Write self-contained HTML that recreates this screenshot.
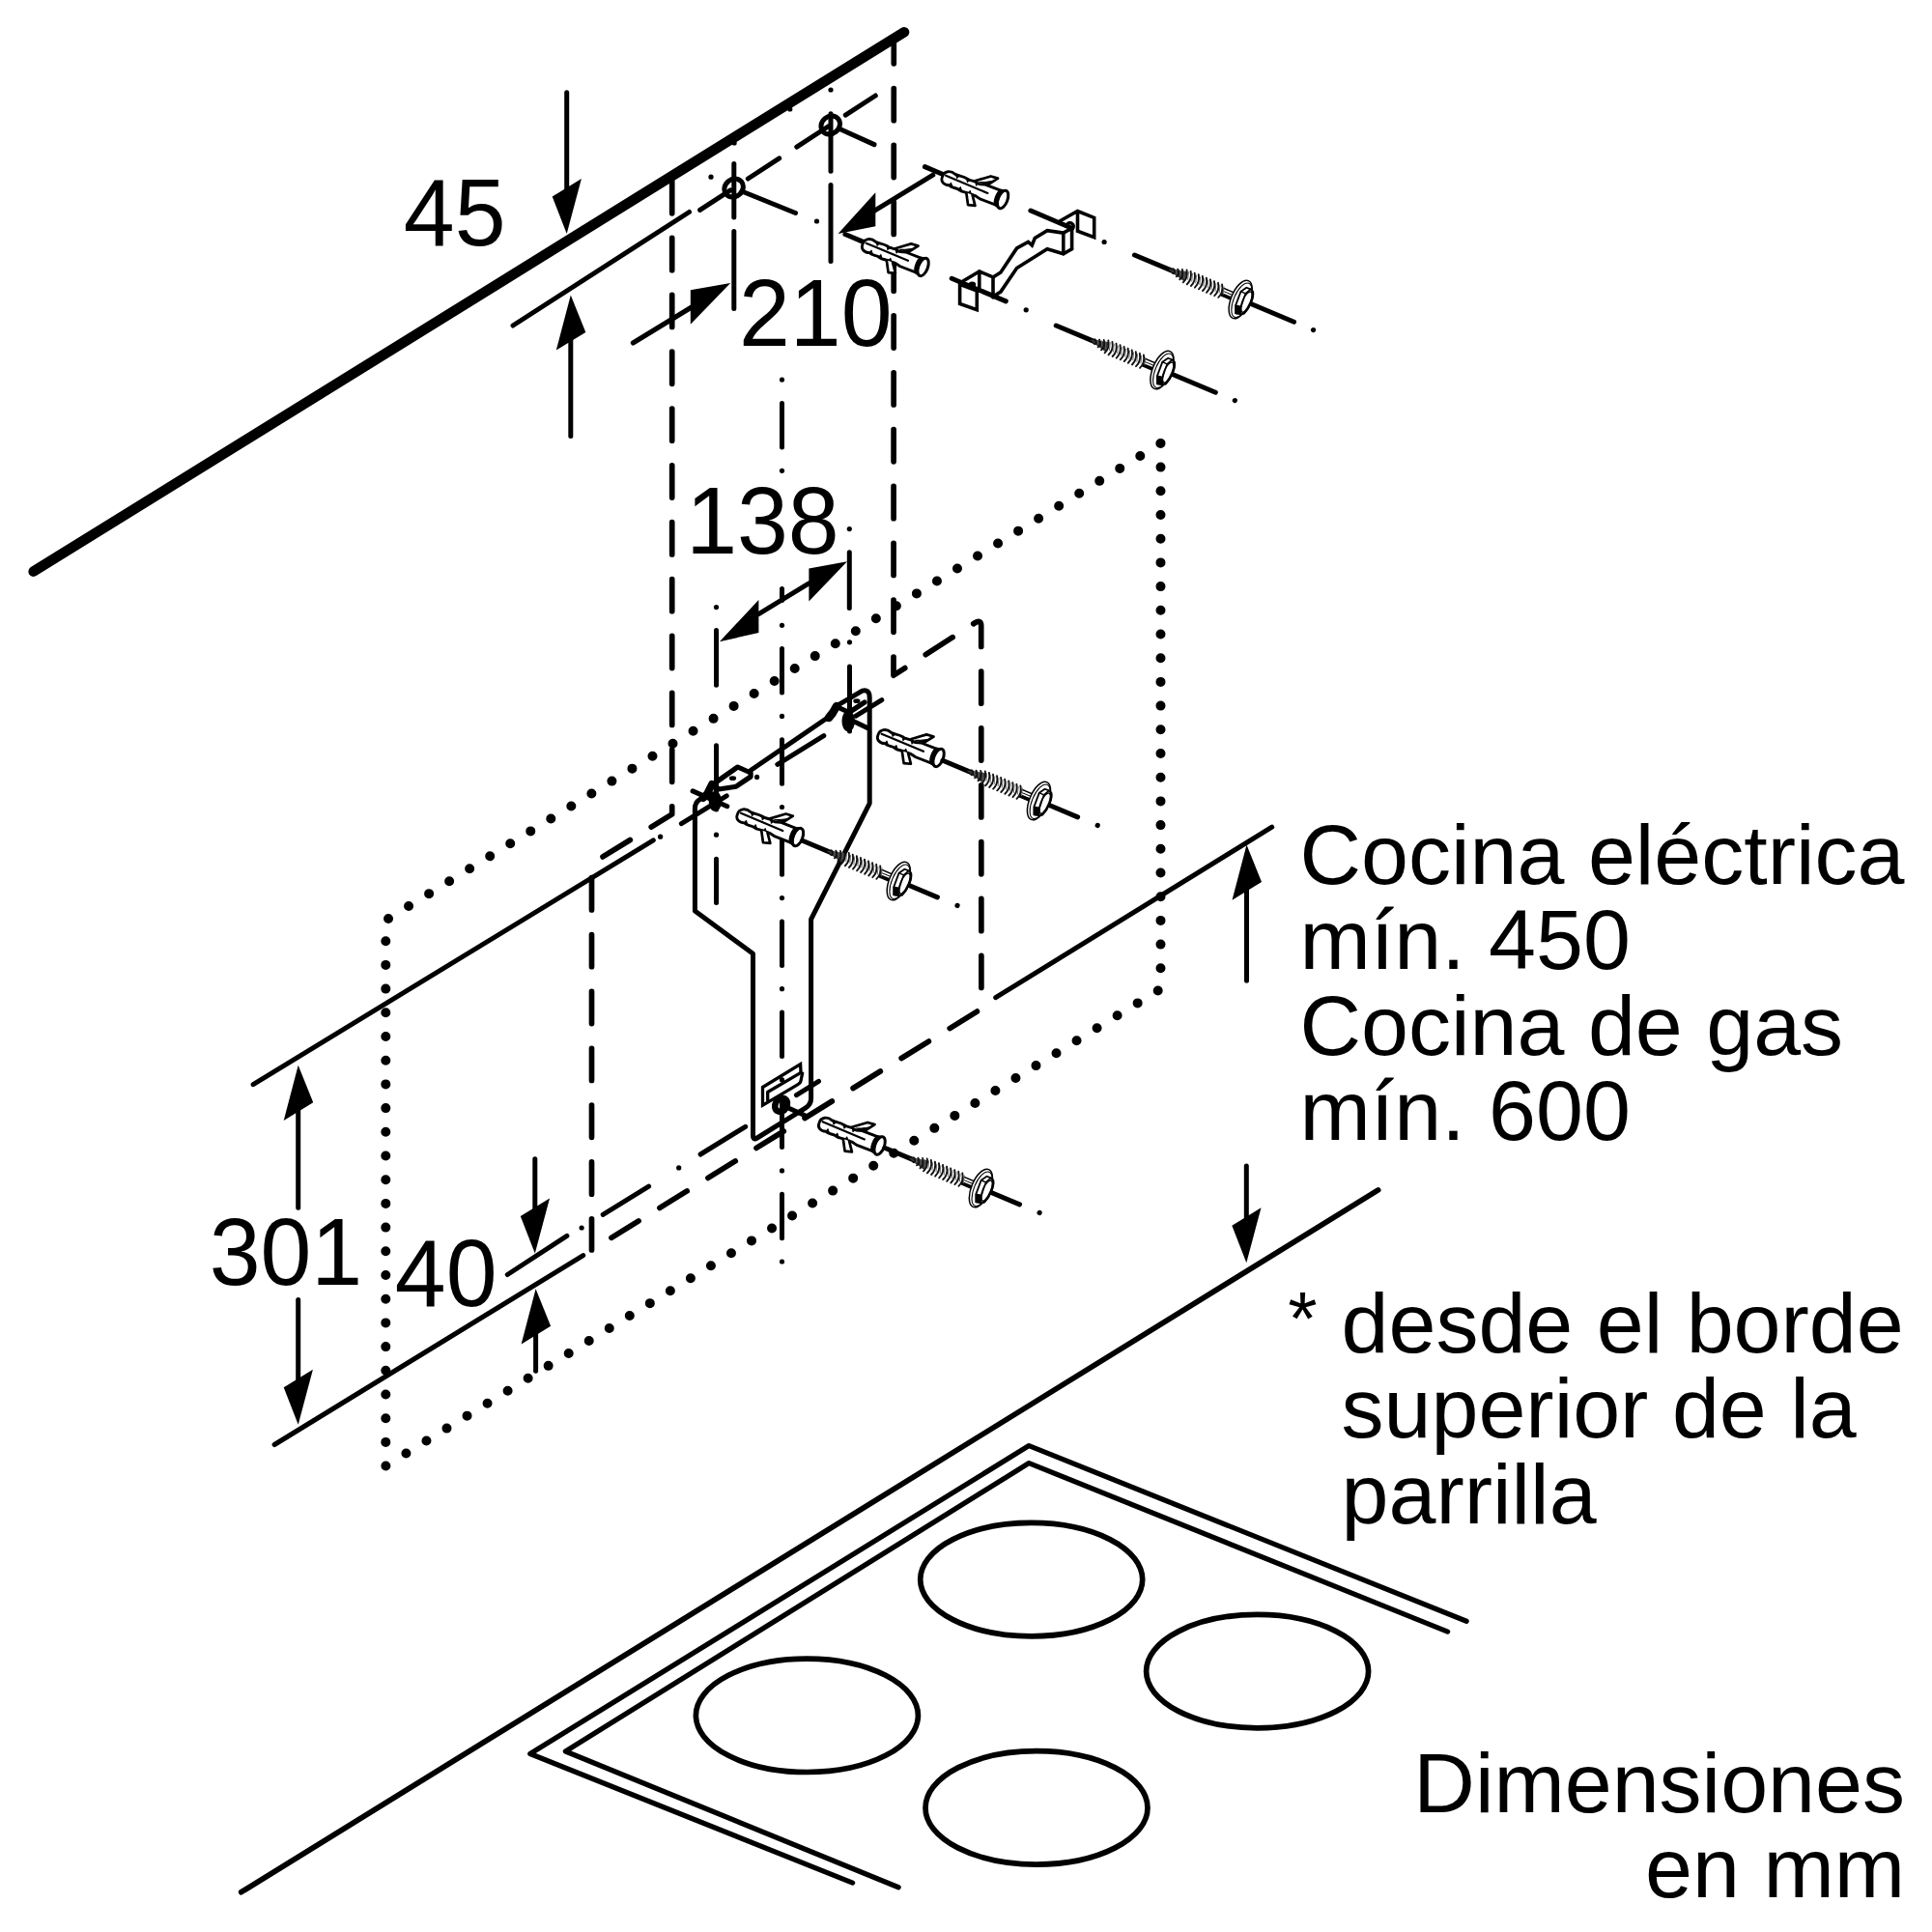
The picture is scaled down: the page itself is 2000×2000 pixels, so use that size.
<!DOCTYPE html>
<html lang="es"><head><meta charset="utf-8"><title>Dimensiones en mm</title>
<style>
html,body{margin:0;padding:0;background:#fff}
svg{display:block}
text{font-family:"Liberation Sans",sans-serif;fill:#000;stroke:none}
</style></head><body>
<svg width="2000" height="2000" viewBox="0 0 2000 2000" stroke="#000" fill="none" stroke-linecap="round" stroke-linejoin="round">
<rect x="0" y="0" width="2000" height="2000" fill="#fff" stroke="none"/>
<path d="M1201.5,458.9 L1201.5,1023.7 L399.3,1517.5 L399.3,952.7 Z" stroke-width="10" stroke-dasharray="0 24.7" stroke-linejoin="miter"/>
<line x1="34.7" y1="591.6" x2="936.0" y2="33.3" stroke-width="10.6" />
<path d="M695.7,185 L695.7,842.9 L612.5,894" stroke-width="5.7" stroke-dasharray="33.2 25.65" stroke-dashoffset="-2.6" stroke-linejoin="round"/>
<path d="M612.5,894 L612.5,1294" stroke-width="5.7" stroke-dasharray="33.2 25.65" stroke-dashoffset="-14.7" stroke-linejoin="round"/>
<path d="M612.5,1294 L1015.9,1044.3" stroke-width="5.7" stroke-dasharray="33.2 25.65" stroke-dashoffset="-24.0" stroke-linejoin="round"/>
<path d="M1015.9,1044.3 L1015.7,648 Q1015.7,640.6 1008.9,645 L925,699.2 L925.3,44" stroke-width="5.7" stroke-dasharray="33.2 25.65" stroke-dashoffset="-21.8" stroke-linejoin="round"/>
<line x1="586.7" y1="95.8" x2="586.7" y2="202.0" stroke-width="5.0" />
<polygon points="586.7,242.0 571.7,203.5 601.9,185.0" fill="#000" stroke="none"/>
<line x1="590.8" y1="345.4" x2="590.8" y2="451.6" stroke-width="5.0" />
<polygon points="590.8,305.4 575.8,362.6 606.3,343.9" fill="#000" stroke="none"/>
<line x1="531.0" y1="337.0" x2="713.5" y2="219.5" stroke-width="5.0" />
<text transform="translate(417.8 254.0) scale(1 1.04)" font-size="95" text-anchor="start">45</text>
<line x1="724.6" y1="217.4" x2="756.2" y2="196.8" stroke-width="5.0" />
<line x1="774.3" y1="185.0" x2="806.7" y2="163.9" stroke-width="5.0" />
<line x1="824.8" y1="152.1" x2="857.2" y2="131.0" stroke-width="5.0" />
<line x1="875.3" y1="119.2" x2="906.3" y2="99.0" stroke-width="5.0" />
<ellipse cx="759.6" cy="194.6" rx="10.3" ry="8.9" stroke-width="5.0" transform="rotate(-40 759.6 194.6)"/>
<ellipse cx="859.7" cy="129.4" rx="10.3" ry="8.9" stroke-width="5.0" transform="rotate(-40 859.7 129.4)"/>
<line x1="767.9" y1="198.0" x2="823.5" y2="220.5" stroke-width="5.0" />
<line x1="868.8" y1="133.3" x2="905.0" y2="149.6" stroke-width="5.0" />
<line x1="759.8" y1="169.5" x2="759.8" y2="225.0" stroke-width="5.0" />
<line x1="759.8" y1="239.4" x2="759.8" y2="319.6" stroke-width="5.0" />
<circle cx="760.1" cy="148.0" r="2.6" fill="#000" stroke="none"/>
<line x1="860.0" y1="117.7" x2="860.0" y2="177.3" stroke-width="5.0" />
<line x1="860.0" y1="191.5" x2="860.0" y2="270.5" stroke-width="5.0" />
<circle cx="860.0" cy="93.0" r="2.6" fill="#000" stroke="none"/>
<circle cx="817.8" cy="113.0" r="2.6" fill="#000" stroke="none"/>
<circle cx="736.0" cy="183.2" r="2.6" fill="#000" stroke="none"/>
<circle cx="845.5" cy="229.0" r="2.6" fill="#000" stroke="none"/>
<line x1="655.3" y1="355.0" x2="720.0" y2="315.5" stroke-width="5.0" />
<polygon points="756.2,293.0 714.8,300.2 714.8,335.7" fill="#000" stroke="none"/>
<line x1="965.8" y1="181.2" x2="900.0" y2="221.3" stroke-width="5.0" />
<polygon points="867.5,242.0 906.3,199.3 906.3,234.2" fill="#000" stroke="none"/>
<text transform="translate(765.0 358.0) scale(1 1.04)" font-size="95" text-anchor="start">210</text>
<circle cx="809.5" cy="393.1" r="2.6" fill="#000" stroke="none"/>
<line x1="809.5" y1="417.6" x2="809.5" y2="463.1" stroke-width="5.0" />
<circle cx="809.5" cy="487.3" r="2.6" fill="#000" stroke="none"/>
<line x1="809.5" y1="609.4" x2="809.5" y2="621.5" stroke-width="5.0" />
<circle cx="809.5" cy="647.3" r="2.6" fill="#000" stroke="none"/>
<line x1="809.5" y1="671.6" x2="809.5" y2="717.1" stroke-width="5.0" />
<circle cx="809.5" cy="741.4" r="2.6" fill="#000" stroke="none"/>
<line x1="809.5" y1="765.7" x2="809.5" y2="811.2" stroke-width="5.0" />
<circle cx="809.5" cy="835.5" r="2.6" fill="#000" stroke="none"/>
<line x1="809.5" y1="859.8" x2="809.5" y2="905.3" stroke-width="5.0" />
<circle cx="809.5" cy="929.6" r="2.6" fill="#000" stroke="none"/>
<line x1="809.5" y1="953.9" x2="809.5" y2="999.4" stroke-width="5.0" />
<circle cx="809.5" cy="1023.7" r="2.6" fill="#000" stroke="none"/>
<line x1="809.5" y1="1048.0" x2="809.5" y2="1093.5" stroke-width="5.0" />
<circle cx="809.5" cy="1117.8" r="2.6" fill="#000" stroke="none"/>
<line x1="809.5" y1="1142.1" x2="809.5" y2="1187.6" stroke-width="5.0" />
<circle cx="809.5" cy="1211.9" r="2.6" fill="#000" stroke="none"/>
<line x1="809.5" y1="1236.2" x2="809.5" y2="1281.7" stroke-width="5.0" />
<circle cx="809.5" cy="1306.0" r="2.6" fill="#000" stroke="none"/>
<text transform="translate(710.2 572.5) scale(1 1.04)" font-size="95" text-anchor="start">138</text>
<polygon points="877.0,581.3 837.4,588.6 837.4,622.4" fill="#000" stroke="none"/>
<polygon points="744.9,664.3 785.4,620.9 785.4,655.0" fill="#000" stroke="none"/>
<line x1="837.4" y1="603.8" x2="785.4" y2="635.6" stroke-width="5.0" />
<circle cx="879.3" cy="547.6" r="2.6" fill="#000" stroke="none"/>
<line x1="879.3" y1="571.8" x2="879.3" y2="629.5" stroke-width="5.0" />
<circle cx="879.5" cy="664.8" r="2.6" fill="#000" stroke="none"/>
<line x1="879.5" y1="690.0" x2="879.5" y2="757.0" stroke-width="5.0" />
<circle cx="741.5" cy="628.6" r="2.6" fill="#000" stroke="none"/>
<line x1="741.5" y1="652.6" x2="741.5" y2="709.2" stroke-width="5.0" />
<line x1="741.5" y1="771.8" x2="741.5" y2="838.0" stroke-width="5.0" />
<circle cx="741.5" cy="864.2" r="2.6" fill="#000" stroke="none"/>
<line x1="741.5" y1="889.3" x2="741.5" y2="934.6" stroke-width="5.0" />
<line x1="262.1" y1="1122.7" x2="676.3" y2="869.8" stroke-width="5.0" />
<circle cx="683.6" cy="866.2" r="2.6" fill="#000" stroke="none"/>
<line x1="308.7" y1="1142.8" x2="308.7" y2="1250.3" stroke-width="5.0" />
<polygon points="308.7,1102.8 293.7,1160.0 324.2,1141.3" fill="#000" stroke="none"/>
<line x1="308.7" y1="1345.4" x2="308.7" y2="1434.8" stroke-width="5.0" />
<polygon points="308.7,1474.8 293.7,1436.3 323.9,1417.8" fill="#000" stroke="none"/>
<text transform="translate(216.7 1329.5) scale(1 1.04)" font-size="95" text-anchor="start">301</text>
<line x1="284.1" y1="1495.5" x2="603.7" y2="1299.6" stroke-width="5.0" />
<text transform="translate(408.8 1351.5) scale(1 1.04)" font-size="95" text-anchor="start">40</text>
<line x1="553.8" y1="1199.8" x2="553.8" y2="1257.5" stroke-width="5.0" />
<polygon points="553.8,1297.5 538.8,1259.0 569.0,1240.5" fill="#000" stroke="none"/>
<line x1="554.6" y1="1374.3" x2="554.6" y2="1419.2" stroke-width="5.0" />
<polygon points="554.6,1334.3 539.6,1391.5 570.1,1372.8" fill="#000" stroke="none"/>
<line x1="525.3" y1="1319.5" x2="586.9" y2="1279.4" stroke-width="5.0" />
<line x1="1030.7" y1="1032.7" x2="1316.7" y2="856.2" stroke-width="5.0" />
<line x1="1290.5" y1="914.5" x2="1290.5" y2="1015.3" stroke-width="5.0" />
<polygon points="1290.5,874.5 1275.5,931.7 1306.0,913.0" fill="#000" stroke="none"/>
<line x1="1290.3" y1="1207.0" x2="1290.3" y2="1267.2" stroke-width="5.0" />
<polygon points="1290.3,1307.2 1275.3,1268.7 1305.5,1250.2" fill="#000" stroke="none"/>
<line x1="249.7" y1="1958.7" x2="1426.7" y2="1231.9" stroke-width="5.7" />
<text x="1345.5" y="915.1" font-size="88" text-anchor="start">Cocina eléctrica</text>
<text x="1345.5" y="1003.3" font-size="88" text-anchor="start">mín. 450</text>
<text x="1345.5" y="1091.5" font-size="88" text-anchor="start">Cocina de gas</text>
<text x="1345.5" y="1179.7" font-size="88" text-anchor="start">mín. 600</text>
<text x="1333.3" y="1392.0" font-size="78" text-anchor="start">*</text>
<text x="1388.5" y="1400.3" font-size="88" text-anchor="start">desde el borde</text>
<text x="1388.5" y="1488.4" font-size="88" text-anchor="start">superior de la</text>
<text x="1388.5" y="1576.5" font-size="88" text-anchor="start">parrilla</text>
<text x="1972.0" y="1875.7" font-size="88" text-anchor="end">Dimensiones</text>
<text x="1972.0" y="1963.5" font-size="88" text-anchor="end">en mm</text>
<polyline points="882.6,1949.1 548.8,1815.5 1065.2,1496.6 1518.1,1678.3" fill="none" stroke-width="5.3" stroke-linejoin="round"/>
<polyline points="930.1,1953.7 585.4,1813.0 1065.2,1514.6 1498.6,1689.1" fill="none" stroke-width="5.3" stroke-linejoin="round"/>
<ellipse cx="835.4" cy="1775.8" rx="115" ry="58.7" stroke-width="5.7"/>
<ellipse cx="1067.7" cy="1635.1" rx="115" ry="58.7" stroke-width="5.7"/>
<ellipse cx="1301.6" cy="1730.1" rx="115" ry="58.7" stroke-width="5.7"/>
<ellipse cx="1073" cy="1871.4" rx="115" ry="58.7" stroke-width="5.7"/>
<path d="M735,821 L724,827.8 Q719.4,830.8 719.4,837 L719.4,943 L779.5,987.3 L779.5,1175.5 Q779.5,1180.6 783.8,1178 L834,1146.8 Q839.6,1143.3 839.6,1137 L839.6,951.6 L900.2,831.6 L900.2,722 Q900.2,713.2 892.6,715.2 L868,729.6 Q864,732 861,740 L777,797.5" stroke-width="5.0"/>
<path d="M738,812 L763.7,794 L777.1,800 L777.1,804 L762.1,814.2 L744,817 Z" stroke-width="5.2"/>
<ellipse cx="758.5" cy="805.7" rx="3.6" ry="2.4" fill="#000" stroke="none"/>
<path d="M737,812 L732,822 L728,826" stroke-width="8"/>
<ellipse cx="740.3" cy="829.5" rx="3.6" ry="7.4" stroke-width="6"/>
<line x1="717.1" y1="818.9" x2="752.8" y2="834.7" stroke-width="5" />
<path d="M866,731.5 L879,737.5 L895,727" stroke-width="5.2"/>
<ellipse cx="886.9" cy="725.7" rx="3.6" ry="2.4" fill="#000" stroke="none"/>
<path d="M866,731 L862,738 L858,743" stroke-width="8.5"/>
<ellipse cx="878.2" cy="746.5" rx="3.6" ry="7.6" stroke-width="6.2"/>
<line x1="884.3" y1="746.9" x2="898.3" y2="753.7" stroke-width="5" />
<line x1="705.4" y1="852.7" x2="752.2" y2="823.8" stroke-width="5.0" />
<line x1="804.8" y1="791.3" x2="852.8" y2="761.6" stroke-width="5.0" />
<line x1="886.0" y1="741.1" x2="912.8" y2="724.6" stroke-width="5.0" />
<circle cx="783.6" cy="804.4" r="2.6" fill="#000" stroke="none"/>
<path d="M789.5,1125.5 L828.6,1101.7 L829,1110 L830.6,1111.2 L829.2,1118 Q829,1121 826,1122.6 L799,1138.6 L789.5,1144.2 Z" stroke-width="3.3" stroke-linejoin="miter"/>
<path d="M827.8,1111.1 L794.7,1130.5 L794.7,1139" stroke-width="3.3"/>
<circle cx="809.3" cy="1117.8" r="2.4" fill="#000" stroke="none"/>
<ellipse cx="808.6" cy="1143.8" rx="6.0" ry="7.4" stroke-width="6.6" transform="rotate(30 808.6 1143.8)"/>
<line x1="814.5" y1="1146.3" x2="832.8" y2="1154.5" stroke-width="5" />
<line x1="824.5" y1="1133.7" x2="847.5" y2="1119.4" stroke-width="5.0" />
<line x1="725.1" y1="1195.0" x2="771.7" y2="1166.3" stroke-width="5.0" />
<line x1="624.2" y1="1257.4" x2="671.6" y2="1228.1" stroke-width="5.0" />
<circle cx="702.7" cy="1208.9" r="2.6" fill="#000" stroke="none"/>
<circle cx="602.1" cy="1271.0" r="2.6" fill="#000" stroke="none"/>
<g stroke-width="3.6" stroke-linejoin="miter">
<path d="M1097.3,228.8 L1115.5,218.5 L1132.7,225.4 L1132.7,245.6 L1115.5,239.2 L1115.5,218.5"/>
<path d="M1109.6,257.8 L1109.6,236.2 L1100.8,241.1 L1100.8,262.8"/>
<path d="M1028.0,286.9 L1035.9,281.9 L1052.6,256.9 L1064.4,250.5 L1068.3,253.9 L1071.3,246.5 L1084.1,238.7 L1100.8,241.1"/>
<path d="M1028.0,307.0 L1035.9,302.1 L1052.6,277.5 L1084.1,257.8 L1100.8,262.8 L1109.6,257.8"/>
<path d="M996.5,291.3 L1013.8,281.0 L1028.0,286.9 L1028.0,308.0"/>
<path d="M1013.8,281.0 L1013.8,301.1"/>
<path d="M993.6,294.2 L1011.3,301.1 L1011.3,320.8 L993.6,314.4 Z"/>
</g>
<path d="M1104.7,232.3 a3.6,3.6 0 1 1 6,4" stroke-width="3.4"/>
<ellipse cx="1006.4" cy="294.7" rx="3.8" ry="3.2" fill="#000" stroke="none"/>
<line x1="1066.9" y1="218.0" x2="1109.6" y2="236.2" stroke-width="5" />
<line x1="985.2" y1="288.3" x2="1041.3" y2="311.9" stroke-width="5" />
<circle cx="1143.1" cy="250.5" r="2.6" fill="#000" stroke="none"/>
<circle cx="1062.2" cy="320.8" r="2.6" fill="#000" stroke="none"/>
<g transform="translate(1038.1 206.5) rotate(22.75)">
<line x1="-87.5" y1="0" x2="-64" y2="0" stroke-width="5"/>
</g>
<g transform="translate(1038.1 206.5) rotate(21)">
<g transform="scale(0.972 1)">
<path d="M-2,-7.9 L-23,-7.9 L-29,-6.2 C-35,-8.2 -39,-5.6 -43,-6.8 C-49,-8.2 -53,-5.8 -57,-6.8 C-63,-9 -69.3,-5.8 -68.8,0 C-69.3,5.8 -64,8 -59,6.2 C-55,8.2 -51,5.6 -47,7 C-43,8.4 -39,5.8 -35,7 L-29,6.6 L-23,7.9 L-2,7.9 Z" fill="#fff" stroke-width="2.9"/>
<path d="M-56,-6.6 l3.6,0.4 l-1.4,2.8 Z M-44,-6.6 l3.6,0.4 l-1.4,2.8 Z M-34,-6.8 l3.8,0.6 l-1.6,2.8 Z M-59,6.2 l1.2,-3.2 l2.4,2.8 Z M-48,6.8 l1.2,-3.2 l2.4,2.8 Z M-37,6.8 l1.2,-3.2 l2.4,2.8 Z" fill="#000" stroke-width="0.9"/>
</g>
<path d="M-33.8,-7.6 L-20.2,-18 L-12.6,-18.6 L-19.7,-9" fill="#fff" stroke-width="2.7"/>
<path d="M-29,-8.2 L-19.7,-9 L-15.5,-14.6 L-24,-10.2 Z" fill="#000" stroke-width="1"/>
<path d="M-37.8,7 L-31.6,18.2 L-24.5,16.2 L-31.3,6.6" fill="#fff" stroke-width="2.7"/>
<ellipse cx="0" cy="0" rx="4.8" ry="9.7" fill="#fff" stroke-width="3"/>
<path d="M-0.6,-9.6 A4.8,9.7 0 0 0 -0.6,9.6 L-5.4,8.3 A4.8,9.7 0 0 1 -5.4,-8.3 Z" fill="#000" stroke-width="2"/>
</g>
<g transform="translate(1038.1 206.5) rotate(22.75)">
<line x1="-64" y1="0" x2="-17" y2="0" stroke-width="2.2"/>
</g>
<g transform="translate(955.6 276.4) rotate(22.75)">
<line x1="-87.5" y1="0" x2="-64" y2="0" stroke-width="5"/>
</g>
<g transform="translate(955.6 276.4) rotate(21)">
<g transform="scale(0.972 1)">
<path d="M-2,-7.9 L-23,-7.9 L-29,-6.2 C-35,-8.2 -39,-5.6 -43,-6.8 C-49,-8.2 -53,-5.8 -57,-6.8 C-63,-9 -69.3,-5.8 -68.8,0 C-69.3,5.8 -64,8 -59,6.2 C-55,8.2 -51,5.6 -47,7 C-43,8.4 -39,5.8 -35,7 L-29,6.6 L-23,7.9 L-2,7.9 Z" fill="#fff" stroke-width="2.9"/>
<path d="M-56,-6.6 l3.6,0.4 l-1.4,2.8 Z M-44,-6.6 l3.6,0.4 l-1.4,2.8 Z M-34,-6.8 l3.8,0.6 l-1.6,2.8 Z M-59,6.2 l1.2,-3.2 l2.4,2.8 Z M-48,6.8 l1.2,-3.2 l2.4,2.8 Z M-37,6.8 l1.2,-3.2 l2.4,2.8 Z" fill="#000" stroke-width="0.9"/>
</g>
<path d="M-33.8,-7.6 L-20.2,-18 L-12.6,-18.6 L-19.7,-9" fill="#fff" stroke-width="2.7"/>
<path d="M-29,-8.2 L-19.7,-9 L-15.5,-14.6 L-24,-10.2 Z" fill="#000" stroke-width="1"/>
<path d="M-37.8,7 L-31.6,18.2 L-24.5,16.2 L-31.3,6.6" fill="#fff" stroke-width="2.7"/>
<ellipse cx="0" cy="0" rx="4.8" ry="9.7" fill="#fff" stroke-width="3"/>
<path d="M-0.6,-9.6 A4.8,9.7 0 0 0 -0.6,9.6 L-5.4,8.3 A4.8,9.7 0 0 1 -5.4,-8.3 Z" fill="#000" stroke-width="2"/>
</g>
<g transform="translate(955.6 276.4) rotate(22.75)">
<line x1="-64" y1="0" x2="-17" y2="0" stroke-width="2.2"/>
</g>
<g transform="translate(971.6 784.4) rotate(22.75)">
</g>
<g transform="translate(971.6 784.4) rotate(21)">
<g transform="scale(0.972 1)">
<path d="M-2,-7.9 L-23,-7.9 L-29,-6.2 C-35,-8.2 -39,-5.6 -43,-6.8 C-49,-8.2 -53,-5.8 -57,-6.8 C-63,-9 -69.3,-5.8 -68.8,0 C-69.3,5.8 -64,8 -59,6.2 C-55,8.2 -51,5.6 -47,7 C-43,8.4 -39,5.8 -35,7 L-29,6.6 L-23,7.9 L-2,7.9 Z" fill="#fff" stroke-width="2.9"/>
<path d="M-56,-6.6 l3.6,0.4 l-1.4,2.8 Z M-44,-6.6 l3.6,0.4 l-1.4,2.8 Z M-34,-6.8 l3.8,0.6 l-1.6,2.8 Z M-59,6.2 l1.2,-3.2 l2.4,2.8 Z M-48,6.8 l1.2,-3.2 l2.4,2.8 Z M-37,6.8 l1.2,-3.2 l2.4,2.8 Z" fill="#000" stroke-width="0.9"/>
</g>
<path d="M-33.8,-7.6 L-20.2,-18 L-12.6,-18.6 L-19.7,-9" fill="#fff" stroke-width="2.7"/>
<path d="M-29,-8.2 L-19.7,-9 L-15.5,-14.6 L-24,-10.2 Z" fill="#000" stroke-width="1"/>
<path d="M-37.8,7 L-31.6,18.2 L-24.5,16.2 L-31.3,6.6" fill="#fff" stroke-width="2.7"/>
<ellipse cx="0" cy="0" rx="4.8" ry="9.7" fill="#fff" stroke-width="3"/>
<path d="M-0.6,-9.6 A4.8,9.7 0 0 0 -0.6,9.6 L-5.4,8.3 A4.8,9.7 0 0 1 -5.4,-8.3 Z" fill="#000" stroke-width="2"/>
</g>
<g transform="translate(971.6 784.4) rotate(22.75)">
<line x1="-64" y1="0" x2="-17" y2="0" stroke-width="2.2"/>
</g>
<g transform="translate(826.0 866.6) rotate(22.75)">
</g>
<g transform="translate(826.0 866.6) rotate(21)">
<g transform="scale(0.972 1)">
<path d="M-2,-7.9 L-23,-7.9 L-29,-6.2 C-35,-8.2 -39,-5.6 -43,-6.8 C-49,-8.2 -53,-5.8 -57,-6.8 C-63,-9 -69.3,-5.8 -68.8,0 C-69.3,5.8 -64,8 -59,6.2 C-55,8.2 -51,5.6 -47,7 C-43,8.4 -39,5.8 -35,7 L-29,6.6 L-23,7.9 L-2,7.9 Z" fill="#fff" stroke-width="2.9"/>
<path d="M-56,-6.6 l3.6,0.4 l-1.4,2.8 Z M-44,-6.6 l3.6,0.4 l-1.4,2.8 Z M-34,-6.8 l3.8,0.6 l-1.6,2.8 Z M-59,6.2 l1.2,-3.2 l2.4,2.8 Z M-48,6.8 l1.2,-3.2 l2.4,2.8 Z M-37,6.8 l1.2,-3.2 l2.4,2.8 Z" fill="#000" stroke-width="0.9"/>
</g>
<path d="M-33.8,-7.6 L-20.2,-18 L-12.6,-18.6 L-19.7,-9" fill="#fff" stroke-width="2.7"/>
<path d="M-29,-8.2 L-19.7,-9 L-15.5,-14.6 L-24,-10.2 Z" fill="#000" stroke-width="1"/>
<path d="M-37.8,7 L-31.6,18.2 L-24.5,16.2 L-31.3,6.6" fill="#fff" stroke-width="2.7"/>
<ellipse cx="0" cy="0" rx="4.8" ry="9.7" fill="#fff" stroke-width="3"/>
<path d="M-0.6,-9.6 A4.8,9.7 0 0 0 -0.6,9.6 L-5.4,8.3 A4.8,9.7 0 0 1 -5.4,-8.3 Z" fill="#000" stroke-width="2"/>
</g>
<g transform="translate(826.0 866.6) rotate(22.75)">
<line x1="-64" y1="0" x2="-17" y2="0" stroke-width="2.2"/>
</g>
<g transform="translate(910.6 1186.0) rotate(22.75)">
</g>
<g transform="translate(910.6 1186.0) rotate(21)">
<g transform="scale(0.972 1)">
<path d="M-2,-7.9 L-23,-7.9 L-29,-6.2 C-35,-8.2 -39,-5.6 -43,-6.8 C-49,-8.2 -53,-5.8 -57,-6.8 C-63,-9 -69.3,-5.8 -68.8,0 C-69.3,5.8 -64,8 -59,6.2 C-55,8.2 -51,5.6 -47,7 C-43,8.4 -39,5.8 -35,7 L-29,6.6 L-23,7.9 L-2,7.9 Z" fill="#fff" stroke-width="2.9"/>
<path d="M-56,-6.6 l3.6,0.4 l-1.4,2.8 Z M-44,-6.6 l3.6,0.4 l-1.4,2.8 Z M-34,-6.8 l3.8,0.6 l-1.6,2.8 Z M-59,6.2 l1.2,-3.2 l2.4,2.8 Z M-48,6.8 l1.2,-3.2 l2.4,2.8 Z M-37,6.8 l1.2,-3.2 l2.4,2.8 Z" fill="#000" stroke-width="0.9"/>
</g>
<path d="M-33.8,-7.6 L-20.2,-18 L-12.6,-18.6 L-19.7,-9" fill="#fff" stroke-width="2.7"/>
<path d="M-29,-8.2 L-19.7,-9 L-15.5,-14.6 L-24,-10.2 Z" fill="#000" stroke-width="1"/>
<path d="M-37.8,7 L-31.6,18.2 L-24.5,16.2 L-31.3,6.6" fill="#fff" stroke-width="2.7"/>
<ellipse cx="0" cy="0" rx="4.8" ry="9.7" fill="#fff" stroke-width="3"/>
<path d="M-0.6,-9.6 A4.8,9.7 0 0 0 -0.6,9.6 L-5.4,8.3 A4.8,9.7 0 0 1 -5.4,-8.3 Z" fill="#000" stroke-width="2"/>
</g>
<g transform="translate(910.6 1186.0) rotate(22.75)">
<line x1="-64" y1="0" x2="-17" y2="0" stroke-width="2.2"/>
</g>
<g transform="translate(1284.2 310.0) rotate(22.75)">
<line x1="-119.0" y1="0" x2="-72" y2="0" stroke-width="5"/>
<line x1="11" y1="0" x2="60.0" y2="0" stroke-width="5"/>
<circle cx="81.7" cy="0.0" r="2.6" fill="#000" stroke="none"/>
<rect x="-21" y="-4.7" width="14" height="9.4" fill="#000" stroke="none"/>
<rect x="-20" y="-3.2" width="12" height="1.7" fill="#fff" stroke="none"/>
<rect x="-20" y="-0.5" width="12" height="1.5" fill="#fff" stroke="none"/>
<path d="M-80,0 L-62,-4.6 L-62,4.6 Z" fill="#333" stroke="#333" stroke-width="1"/>
<path d="M-76.4,-2.3 Q-71.8,0 -74.8,2.3 M-72.0,-3.8 Q-67.4,0 -70.4,3.8 M-67.6,-5.3 Q-63.0,0 -66.0,5.3 M-63.2,-6.7 Q-58.6,0 -61.6,6.7 M-58.8,-6.9 Q-54.2,0 -57.2,6.9 M-54.4,-6.9 Q-49.8,0 -52.8,6.9 M-50.0,-6.9 Q-45.4,0 -48.4,6.9 M-45.6,-6.9 Q-41.0,0 -44.0,6.9 M-41.2,-6.9 Q-36.6,0 -39.6,6.9 M-36.8,-6.9 Q-32.2,0 -35.2,6.9 M-32.4,-6.9 Q-27.8,0 -30.8,6.9 M-28.0,-6.9 Q-23.4,0 -26.4,6.9 M-23.6,-6.9 Q-19.0,0 -22.0,6.9" stroke-width="1.9" stroke="#111"/>
<path d="M-73.8,-2.4 L-71.4,1.0 M-69.4,-3.6 L-67.0,1.4 M-65.0,-4.8 L-62.6,1.9 M-60.6,-5.5 L-58.2,2.2 M-56.2,-5.5 L-53.8,2.2 M-51.8,-5.5 L-49.4,2.2 M-47.4,-5.5 L-45.0,2.2 M-43.0,-5.5 L-40.6,2.2 M-38.6,-5.5 L-36.2,2.2 M-34.2,-5.5 L-31.8,2.2 M-29.8,-5.5 L-27.4,2.2 M-25.4,-5.5 L-23.0,2.2 M-21.0,-5.5 L-18.6,2.2" stroke-width="0.9" stroke="#666"/>
<ellipse cx="0" cy="0" rx="9.7" ry="21" fill="#fff" stroke-width="1.5"/>
<ellipse cx="1.4" cy="0.3" rx="8.2" ry="19" fill="none" stroke-width="1.1"/>
<path d="M-2.9,-7.8 L0.9,-13.7 L5.6,-13.8 C10,-13 11.6,-6 11.2,0 C10.8,7 9,13 6.2,13.9 L0.9,15.3 L-2.3,7.6 Z" fill="#fff" stroke-width="1.8"/>
<ellipse cx="6.7" cy="0" rx="4.3" ry="11.4" fill="#fff" stroke-width="1.5"/>
<path d="M-2.3,7.6 L3.5,6.4 L6.2,13.9 L0.9,15.3 Z" fill="#000" stroke-width="1.2"/>
<path d="M-2.9,-7.8 L2.3,-7.6 L3.5,6.4 M2.3,-7.6 L5.6,-13.8" stroke-width="1.5"/>
<path d="M8.4,-12.4 C11.6,-8 11.9,4 8.8,12" stroke-width="2.6"/>
</g>
<g transform="translate(1203.0 383.0) rotate(22.75)">
<line x1="-119.0" y1="0" x2="-72" y2="0" stroke-width="5"/>
<line x1="11" y1="0" x2="60.0" y2="0" stroke-width="5"/>
<circle cx="81.7" cy="0.0" r="2.6" fill="#000" stroke="none"/>
<rect x="-21" y="-4.7" width="14" height="9.4" fill="#000" stroke="none"/>
<rect x="-20" y="-3.2" width="12" height="1.7" fill="#fff" stroke="none"/>
<rect x="-20" y="-0.5" width="12" height="1.5" fill="#fff" stroke="none"/>
<path d="M-80,0 L-62,-4.6 L-62,4.6 Z" fill="#333" stroke="#333" stroke-width="1"/>
<path d="M-76.4,-2.3 Q-71.8,0 -74.8,2.3 M-72.0,-3.8 Q-67.4,0 -70.4,3.8 M-67.6,-5.3 Q-63.0,0 -66.0,5.3 M-63.2,-6.7 Q-58.6,0 -61.6,6.7 M-58.8,-6.9 Q-54.2,0 -57.2,6.9 M-54.4,-6.9 Q-49.8,0 -52.8,6.9 M-50.0,-6.9 Q-45.4,0 -48.4,6.9 M-45.6,-6.9 Q-41.0,0 -44.0,6.9 M-41.2,-6.9 Q-36.6,0 -39.6,6.9 M-36.8,-6.9 Q-32.2,0 -35.2,6.9 M-32.4,-6.9 Q-27.8,0 -30.8,6.9 M-28.0,-6.9 Q-23.4,0 -26.4,6.9 M-23.6,-6.9 Q-19.0,0 -22.0,6.9" stroke-width="1.9" stroke="#111"/>
<path d="M-73.8,-2.4 L-71.4,1.0 M-69.4,-3.6 L-67.0,1.4 M-65.0,-4.8 L-62.6,1.9 M-60.6,-5.5 L-58.2,2.2 M-56.2,-5.5 L-53.8,2.2 M-51.8,-5.5 L-49.4,2.2 M-47.4,-5.5 L-45.0,2.2 M-43.0,-5.5 L-40.6,2.2 M-38.6,-5.5 L-36.2,2.2 M-34.2,-5.5 L-31.8,2.2 M-29.8,-5.5 L-27.4,2.2 M-25.4,-5.5 L-23.0,2.2 M-21.0,-5.5 L-18.6,2.2" stroke-width="0.9" stroke="#666"/>
<ellipse cx="0" cy="0" rx="9.7" ry="21" fill="#fff" stroke-width="1.5"/>
<ellipse cx="1.4" cy="0.3" rx="8.2" ry="19" fill="none" stroke-width="1.1"/>
<path d="M-2.9,-7.8 L0.9,-13.7 L5.6,-13.8 C10,-13 11.6,-6 11.2,0 C10.8,7 9,13 6.2,13.9 L0.9,15.3 L-2.3,7.6 Z" fill="#fff" stroke-width="1.8"/>
<ellipse cx="6.7" cy="0" rx="4.3" ry="11.4" fill="#fff" stroke-width="1.5"/>
<path d="M-2.3,7.6 L3.5,6.4 L6.2,13.9 L0.9,15.3 Z" fill="#000" stroke-width="1.2"/>
<path d="M-2.9,-7.8 L2.3,-7.6 L3.5,6.4 M2.3,-7.6 L5.6,-13.8" stroke-width="1.5"/>
<path d="M8.4,-12.4 C11.6,-8 11.9,4 8.8,12" stroke-width="2.6"/>
</g>
<g transform="translate(1075.5 829.0) rotate(22.75)">
<line x1="-108" y1="0" x2="-72" y2="0" stroke-width="5"/>
<line x1="11" y1="0" x2="43.5" y2="0" stroke-width="5"/>
<circle cx="65.8" cy="0.0" r="2.6" fill="#000" stroke="none"/>
<rect x="-21" y="-4.7" width="14" height="9.4" fill="#000" stroke="none"/>
<rect x="-20" y="-3.2" width="12" height="1.7" fill="#fff" stroke="none"/>
<rect x="-20" y="-0.5" width="12" height="1.5" fill="#fff" stroke="none"/>
<path d="M-80,0 L-62,-4.6 L-62,4.6 Z" fill="#333" stroke="#333" stroke-width="1"/>
<path d="M-76.4,-2.3 Q-71.8,0 -74.8,2.3 M-72.0,-3.8 Q-67.4,0 -70.4,3.8 M-67.6,-5.3 Q-63.0,0 -66.0,5.3 M-63.2,-6.7 Q-58.6,0 -61.6,6.7 M-58.8,-6.9 Q-54.2,0 -57.2,6.9 M-54.4,-6.9 Q-49.8,0 -52.8,6.9 M-50.0,-6.9 Q-45.4,0 -48.4,6.9 M-45.6,-6.9 Q-41.0,0 -44.0,6.9 M-41.2,-6.9 Q-36.6,0 -39.6,6.9 M-36.8,-6.9 Q-32.2,0 -35.2,6.9 M-32.4,-6.9 Q-27.8,0 -30.8,6.9 M-28.0,-6.9 Q-23.4,0 -26.4,6.9 M-23.6,-6.9 Q-19.0,0 -22.0,6.9" stroke-width="1.9" stroke="#111"/>
<path d="M-73.8,-2.4 L-71.4,1.0 M-69.4,-3.6 L-67.0,1.4 M-65.0,-4.8 L-62.6,1.9 M-60.6,-5.5 L-58.2,2.2 M-56.2,-5.5 L-53.8,2.2 M-51.8,-5.5 L-49.4,2.2 M-47.4,-5.5 L-45.0,2.2 M-43.0,-5.5 L-40.6,2.2 M-38.6,-5.5 L-36.2,2.2 M-34.2,-5.5 L-31.8,2.2 M-29.8,-5.5 L-27.4,2.2 M-25.4,-5.5 L-23.0,2.2 M-21.0,-5.5 L-18.6,2.2" stroke-width="0.9" stroke="#666"/>
<ellipse cx="0" cy="0" rx="9.7" ry="21" fill="#fff" stroke-width="1.5"/>
<ellipse cx="1.4" cy="0.3" rx="8.2" ry="19" fill="none" stroke-width="1.1"/>
<path d="M-2.9,-7.8 L0.9,-13.7 L5.6,-13.8 C10,-13 11.6,-6 11.2,0 C10.8,7 9,13 6.2,13.9 L0.9,15.3 L-2.3,7.6 Z" fill="#fff" stroke-width="1.8"/>
<ellipse cx="6.7" cy="0" rx="4.3" ry="11.4" fill="#fff" stroke-width="1.5"/>
<path d="M-2.3,7.6 L3.5,6.4 L6.2,13.9 L0.9,15.3 Z" fill="#000" stroke-width="1.2"/>
<path d="M-2.9,-7.8 L2.3,-7.6 L3.5,6.4 M2.3,-7.6 L5.6,-13.8" stroke-width="1.5"/>
<path d="M8.4,-12.4 C11.6,-8 11.9,4 8.8,12" stroke-width="2.6"/>
</g>
<g transform="translate(930.3 912.0) rotate(22.75)">
<line x1="-108" y1="0" x2="-72" y2="0" stroke-width="5"/>
<line x1="11" y1="0" x2="43.5" y2="0" stroke-width="5"/>
<circle cx="65.8" cy="0.0" r="2.6" fill="#000" stroke="none"/>
<rect x="-21" y="-4.7" width="14" height="9.4" fill="#000" stroke="none"/>
<rect x="-20" y="-3.2" width="12" height="1.7" fill="#fff" stroke="none"/>
<rect x="-20" y="-0.5" width="12" height="1.5" fill="#fff" stroke="none"/>
<path d="M-80,0 L-62,-4.6 L-62,4.6 Z" fill="#333" stroke="#333" stroke-width="1"/>
<path d="M-76.4,-2.3 Q-71.8,0 -74.8,2.3 M-72.0,-3.8 Q-67.4,0 -70.4,3.8 M-67.6,-5.3 Q-63.0,0 -66.0,5.3 M-63.2,-6.7 Q-58.6,0 -61.6,6.7 M-58.8,-6.9 Q-54.2,0 -57.2,6.9 M-54.4,-6.9 Q-49.8,0 -52.8,6.9 M-50.0,-6.9 Q-45.4,0 -48.4,6.9 M-45.6,-6.9 Q-41.0,0 -44.0,6.9 M-41.2,-6.9 Q-36.6,0 -39.6,6.9 M-36.8,-6.9 Q-32.2,0 -35.2,6.9 M-32.4,-6.9 Q-27.8,0 -30.8,6.9 M-28.0,-6.9 Q-23.4,0 -26.4,6.9 M-23.6,-6.9 Q-19.0,0 -22.0,6.9" stroke-width="1.9" stroke="#111"/>
<path d="M-73.8,-2.4 L-71.4,1.0 M-69.4,-3.6 L-67.0,1.4 M-65.0,-4.8 L-62.6,1.9 M-60.6,-5.5 L-58.2,2.2 M-56.2,-5.5 L-53.8,2.2 M-51.8,-5.5 L-49.4,2.2 M-47.4,-5.5 L-45.0,2.2 M-43.0,-5.5 L-40.6,2.2 M-38.6,-5.5 L-36.2,2.2 M-34.2,-5.5 L-31.8,2.2 M-29.8,-5.5 L-27.4,2.2 M-25.4,-5.5 L-23.0,2.2 M-21.0,-5.5 L-18.6,2.2" stroke-width="0.9" stroke="#666"/>
<ellipse cx="0" cy="0" rx="9.7" ry="21" fill="#fff" stroke-width="1.5"/>
<ellipse cx="1.4" cy="0.3" rx="8.2" ry="19" fill="none" stroke-width="1.1"/>
<path d="M-2.9,-7.8 L0.9,-13.7 L5.6,-13.8 C10,-13 11.6,-6 11.2,0 C10.8,7 9,13 6.2,13.9 L0.9,15.3 L-2.3,7.6 Z" fill="#fff" stroke-width="1.8"/>
<ellipse cx="6.7" cy="0" rx="4.3" ry="11.4" fill="#fff" stroke-width="1.5"/>
<path d="M-2.3,7.6 L3.5,6.4 L6.2,13.9 L0.9,15.3 Z" fill="#000" stroke-width="1.2"/>
<path d="M-2.9,-7.8 L2.3,-7.6 L3.5,6.4 M2.3,-7.6 L5.6,-13.8" stroke-width="1.5"/>
<path d="M8.4,-12.4 C11.6,-8 11.9,4 8.8,12" stroke-width="2.6"/>
</g>
<g transform="translate(1015.4 1230.0) rotate(22.75)">
<line x1="-108" y1="0" x2="-72" y2="0" stroke-width="5"/>
<line x1="11" y1="0" x2="43.5" y2="0" stroke-width="5"/>
<circle cx="65.8" cy="0.0" r="2.6" fill="#000" stroke="none"/>
<rect x="-21" y="-4.7" width="14" height="9.4" fill="#000" stroke="none"/>
<rect x="-20" y="-3.2" width="12" height="1.7" fill="#fff" stroke="none"/>
<rect x="-20" y="-0.5" width="12" height="1.5" fill="#fff" stroke="none"/>
<path d="M-80,0 L-62,-4.6 L-62,4.6 Z" fill="#333" stroke="#333" stroke-width="1"/>
<path d="M-76.4,-2.3 Q-71.8,0 -74.8,2.3 M-72.0,-3.8 Q-67.4,0 -70.4,3.8 M-67.6,-5.3 Q-63.0,0 -66.0,5.3 M-63.2,-6.7 Q-58.6,0 -61.6,6.7 M-58.8,-6.9 Q-54.2,0 -57.2,6.9 M-54.4,-6.9 Q-49.8,0 -52.8,6.9 M-50.0,-6.9 Q-45.4,0 -48.4,6.9 M-45.6,-6.9 Q-41.0,0 -44.0,6.9 M-41.2,-6.9 Q-36.6,0 -39.6,6.9 M-36.8,-6.9 Q-32.2,0 -35.2,6.9 M-32.4,-6.9 Q-27.8,0 -30.8,6.9 M-28.0,-6.9 Q-23.4,0 -26.4,6.9 M-23.6,-6.9 Q-19.0,0 -22.0,6.9" stroke-width="1.9" stroke="#111"/>
<path d="M-73.8,-2.4 L-71.4,1.0 M-69.4,-3.6 L-67.0,1.4 M-65.0,-4.8 L-62.6,1.9 M-60.6,-5.5 L-58.2,2.2 M-56.2,-5.5 L-53.8,2.2 M-51.8,-5.5 L-49.4,2.2 M-47.4,-5.5 L-45.0,2.2 M-43.0,-5.5 L-40.6,2.2 M-38.6,-5.5 L-36.2,2.2 M-34.2,-5.5 L-31.8,2.2 M-29.8,-5.5 L-27.4,2.2 M-25.4,-5.5 L-23.0,2.2 M-21.0,-5.5 L-18.6,2.2" stroke-width="0.9" stroke="#666"/>
<ellipse cx="0" cy="0" rx="9.7" ry="21" fill="#fff" stroke-width="1.5"/>
<ellipse cx="1.4" cy="0.3" rx="8.2" ry="19" fill="none" stroke-width="1.1"/>
<path d="M-2.9,-7.8 L0.9,-13.7 L5.6,-13.8 C10,-13 11.6,-6 11.2,0 C10.8,7 9,13 6.2,13.9 L0.9,15.3 L-2.3,7.6 Z" fill="#fff" stroke-width="1.8"/>
<ellipse cx="6.7" cy="0" rx="4.3" ry="11.4" fill="#fff" stroke-width="1.5"/>
<path d="M-2.3,7.6 L3.5,6.4 L6.2,13.9 L0.9,15.3 Z" fill="#000" stroke-width="1.2"/>
<path d="M-2.9,-7.8 L2.3,-7.6 L3.5,6.4 M2.3,-7.6 L5.6,-13.8" stroke-width="1.5"/>
<path d="M8.4,-12.4 C11.6,-8 11.9,4 8.8,12" stroke-width="2.6"/>
</g>
</svg></body></html>
